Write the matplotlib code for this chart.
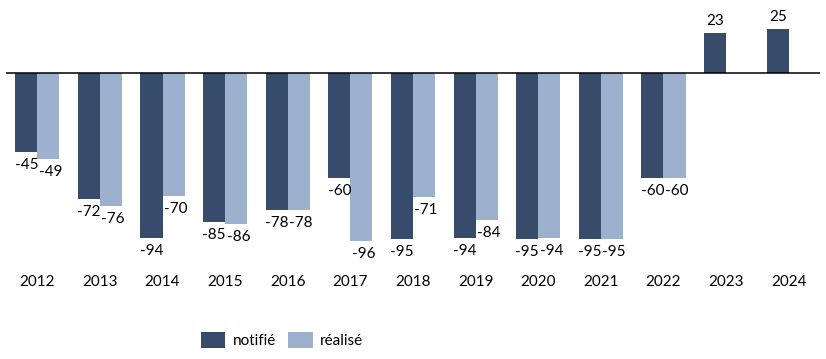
import matplotlib
matplotlib.use("Agg")
import matplotlib.pyplot as plt
import numpy as np

years = ["2012", "2013", "2014", "2015", "2016", "2017", "2018", "2019", "2020", "2021", "2022", "2023", "2024"]
notifie = [-45, -72, -94, -85, -78, -60, -95, -94, -95, -95, -60, 23, 25]
realise = [-49, -76, -70, -86, -78, -96, -71, -84, -94, -95, -60, None, None]

c_dark = "#374C6B"
c_light = "#9DB0CE"

plt.rcParams['font.family'] = ['Lato', 'DejaVu Sans']

W, H = 826, 359
fig = plt.figure(figsize=(W / 100, H / 100), dpi=100)
ax_left, ax_right = 6, 820
ax_top, ax_bot = 10, 262
ax = fig.add_axes([ax_left / W, 1 - ax_bot / H, (ax_right - ax_left) / W, (ax_bot - ax_top) / H])

zero_px = 73
scale = 1.75
ymax = (zero_px - ax_top) / scale
ymin = -(ax_bot - zero_px) / scale
ax.set_ylim(ymin, ymax)
ax.set_xlim(-0.5, len(years) - 0.5)

x = np.arange(len(years))
bw = 0.352
fs = 11

for i in range(len(years)):
    v = notifie[i]
    xi = x[i] - bw / 2
    ax.bar(xi, v, width=bw, color=c_dark, label="notifié" if i == 0 else None, zorder=2)
    if v < 0:
        ax.annotate(f"{v}", (xi, v), xytext=(0, -4.5), textcoords="offset points",
                    ha="center", va="top", fontsize=fs, color="#000000")
    else:
        ax.annotate(f"{v}", (xi, v), xytext=(0, 3.5), textcoords="offset points",
                    ha="center", va="bottom", fontsize=fs, color="#000000")
    r = realise[i]
    if r is not None:
        xr = x[i] + bw / 2
        ax.bar(xr, r, width=bw, color=c_light, label="réalisé" if i == 0 else None, zorder=2)
        ax.annotate(f"{r}", (xr, r), xytext=(1.5, -4.5), textcoords="offset points",
                    ha="center", va="top", fontsize=fs, color="#000000")

ax.axhline(0, color="#000000", linewidth=1.1, zorder=3)
for s in ax.spines.values():
    s.set_visible(False)
ax.set_yticks([])
ax.set_xticks(x)
ax.set_xticklabels(years, fontsize=fs)
ax.tick_params(axis="x", length=0, pad=9.5)

fig.legend(loc="center", bbox_to_anchor=(282 / W, 1 - 340 / H), ncol=2, frameon=False,
           fontsize=fs, handlelength=1.6, handleheight=1.2, handletextpad=0.5, columnspacing=0.8)

fig.savefig("out.png", dpi=100)
